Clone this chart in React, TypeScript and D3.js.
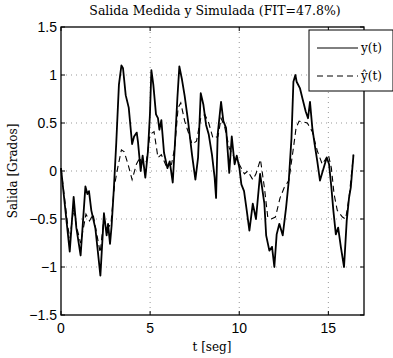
import * as d3 from 'd3'
import React from 'react'

// measured output y(t)
const measT = [0, 0.49, 0.71, 0.86, 1.1, 1.37, 1.48, 1.57, 1.7, 1.93, 2.04, 2.21, 2.41, 2.56, 2.64, 2.75, 2.84, 2.97, 3.1, 3.25, 3.39, 3.48, 3.63, 3.8, 3.99, 4.1, 4.25, 4.32, 4.47, 4.58, 4.73, 4.88, 4.99, 5.07, 5.18, 5.33, 5.44, 5.52, 5.63, 5.78, 5.97, 6.1, 6.27, 6.38, 6.53, 6.64, 6.79, 6.94, 7.13, 7.35, 7.54, 7.69, 7.84, 7.99, 8.14, 8.29, 8.47, 8.62, 8.7, 8.79, 8.98, 9.11, 9.26, 9.44, 9.58, 9.74, 9.86, 10.01, 10.12, 10.27, 10.42, 10.57, 10.76, 10.94, 11.17, 11.28, 11.41, 11.51, 11.69, 11.84, 11.97, 12.1, 12.25, 12.44, 12.63, 12.78, 12.93, 13.04, 13.15, 13.22, 13.41, 13.54, 13.73, 13.86, 13.97, 14.1, 14.23, 14.38, 14.53, 14.72, 14.91, 15.04, 15.17, 15.28, 15.42, 15.55, 15.7, 15.88, 16.03, 16.16, 16.26, 16.41]
const measY = [0.03, -0.84, -0.27, -0.59, -0.88, -0.16, -0.24, -0.21, -0.41, -0.6, -0.79, -1.09, -0.44, -0.67, -0.55, -0.76, -0.57, -0.17, 0.29, 0.9, 1.1, 1.07, 0.79, 0.66, 0.28, 0.36, 0.4, 0.3, 0.0, 0.16, -0.07, 0.21, 0.59, 1.05, 0.9, 0.59, 0.55, 0.43, 0.53, 0.19, 0.03, 0.1, -0.12, 0.24, 0.76, 1.09, 0.95, 0.78, 0.52, 0.17, -0.09, 0.14, 0.81, 0.69, 0.48, 0.38, 0.17, -0.07, -0.28, 0.38, 0.72, 0.52, 0.45, -0.02, 0.36, 0.07, 0.16, 0.03, -0.14, -0.21, -0.41, -0.62, -0.34, -0.5, -0.03, -0.17, -0.34, -0.67, -0.83, -0.79, -1.0, -0.66, -0.55, -0.67, -0.38, -0.1, 0.34, 0.93, 1.0, 0.93, 0.86, 0.76, 0.62, 0.55, 0.72, 0.45, 0.28, 0.1, -0.1, 0.02, 0.14, 0.07, -0.17, -0.41, -0.66, -0.59, -0.79, -1.0, -0.52, -0.28, -0.17, 0.17]

// simulated output yhat(t)
const simT = [0, 0.4, 0.5, 0.7, 0.9, 1.1, 1.4, 1.6, 1.8, 2.0, 2.2, 2.4, 2.6, 2.8, 3.0, 3.2, 3.39, 3.55, 3.76, 3.99, 4.23, 4.43, 4.51, 4.79, 4.99, 5.22, 5.44, 5.63, 5.91, 6.2, 6.38, 6.57, 6.72, 6.94, 7.13, 7.35, 7.6, 7.84, 8.07, 8.29, 8.53, 8.81, 8.98, 9.17, 9.44, 9.72, 10.0, 10.29, 10.48, 10.76, 10.94, 11.19, 11.41, 11.6, 11.79, 12.03, 12.29, 12.53, 12.78, 13.04, 13.19, 13.36, 13.82, 14.1, 14.38, 14.66, 15.0, 15.17, 15.32, 15.5, 15.79, 15.97, 16.16, 16.41]
const simY = [0.03, -0.6, -0.7, -0.4, -0.6, -0.75, -0.45, -0.52, -0.45, -0.65, -0.85, -0.5, -0.6, -0.55, -0.15, 0.05, 0.22, 0.2, 0.07, -0.09, 0.07, 0.14, 0.07, 0.1, 0.38, 0.41, 0.14, 0.17, 0.05, 0.07, 0.24, 0.66, 0.71, 0.52, 0.41, 0.28, 0.31, 0.55, 0.59, 0.5, 0.34, 0.36, 0.55, 0.47, 0.24, 0.14, 0.07, -0.03, 0, -0.09, -0.03, 0.12, -0.17, -0.48, -0.5, -0.48, -0.28, -0.17, -0.1, 0.24, 0.45, 0.52, 0.5, 0.41, 0.21, 0.07, 0.17, 0.03, -0.24, -0.41, -0.48, -0.5, -0.28, 0.17]

const xTicks = [0, 5, 10, 15]
const yTicks = [-1.5, -1, -0.5, 0, 0.5, 1, 1.5]
const seriesNames = ['y(t)', 'ŷ(t)']

export default function App() {
    const width = 393, height = 358
    const left = 61, right = 364, top = 27, bottom = 315

    const x = d3.scaleLinear().domain([0, 17]).range([left, right])
    const y = d3.scaleLinear().domain([-1.5, 1.5]).range([bottom, top])

    const line = d3.line<[number, number]>().x(d => x(d[0])).y(d => y(d[1]))
    const measPath = line(measT.map((t, i) => [t, measY[i]]) as [number, number][]) || ''
    const simPath = line(simT.map((t, i) => [t, simY[i]]) as [number, number][]) || ''

    const fmt = (v: number) => (v < 0 ? '\u2212' + Math.abs(v) : String(v))
    const serif = "'DejaVu Serif', serif"
    const sans = "'Liberation Sans', Arial, sans-serif"

    return (
        <svg width={width} height={height} style={{ position: 'absolute', left: 0, top: 0 }}>
            <rect width={width} height={height} fill="#fff" />
            {/* grid */}
            {xTicks.filter(t => t > 0).map(t => (
                <line key={'gx' + t} x1={x(t)} x2={x(t)} y1={top} y2={bottom} stroke="#999" strokeWidth={1} strokeDasharray="1,4" />
            ))}
            {yTicks.filter(v => v > -1.5 && v < 1.5).map(v => (
                <line key={'gy' + v} x1={left} x2={right} y1={y(v)} y2={y(v)} stroke="#999" strokeWidth={1} strokeDasharray="1,4" />
            ))}
            {/* data */}
            <path d={simPath} fill="none" stroke="#000" strokeWidth={1.1} strokeDasharray="6,4" />
            <path d={measPath} fill="none" stroke="#000" strokeWidth={1.8} strokeLinejoin="round" />
            {/* box and ticks */}
            <rect x={left} y={top} width={right - left} height={bottom - top} fill="none" stroke="#000" strokeWidth={1.3} />
            {xTicks.map(t => (
                <g key={'tx' + t}>
                    <line x1={x(t)} x2={x(t)} y1={bottom} y2={bottom - 4} stroke="#000" />
                    <line x1={x(t)} x2={x(t)} y1={top} y2={top + 4} stroke="#000" />
                    <text x={x(t)} y={bottom + 18} textAnchor="middle" fontFamily={sans} fontSize={14}>{t}</text>
                </g>
            ))}
            {yTicks.map(v => (
                <g key={'ty' + v}>
                    <line x1={left} x2={left + 4} y1={y(v)} y2={y(v)} stroke="#000" />
                    <line x1={right} x2={right - 4} y1={y(v)} y2={y(v)} stroke="#000" />
                    <text x={left - 4} y={y(v) + 5} textAnchor="end" fontFamily={sans} fontSize={14}>{fmt(v)}</text>
                </g>
            ))}
            {/* labels */}
            <text x={215} y={15} textAnchor="middle" fontFamily={serif} fontSize={12.5}>Salida Medida y Simulada (FIT=47.8%)</text>
            <text x={212} y={351} textAnchor="middle" fontFamily={serif} fontSize={12}>t [seg]</text>
            <text transform={`translate(17,${y(0)}) rotate(-90)`} textAnchor="middle" fontFamily={serif} fontSize={12}>Salida [Grados]</text>
            {/* legend */}
            <rect x={309} y={30} width={84} height={61} fill="#fff" stroke="#000" strokeWidth={1} />
            <line x1={317} x2={358} y1={48} y2={48} stroke="#000" strokeWidth={1} />
            <line x1={317} x2={358} y1={76} y2={76} stroke="#000" strokeWidth={1} strokeDasharray="6,4" />
            {seriesNames.map((n, i) => (
                <text key={n} x={361} y={52 + i * 28} fontFamily={serif} fontSize={12}>{n}</text>
            ))}
        </svg>
    )
}
